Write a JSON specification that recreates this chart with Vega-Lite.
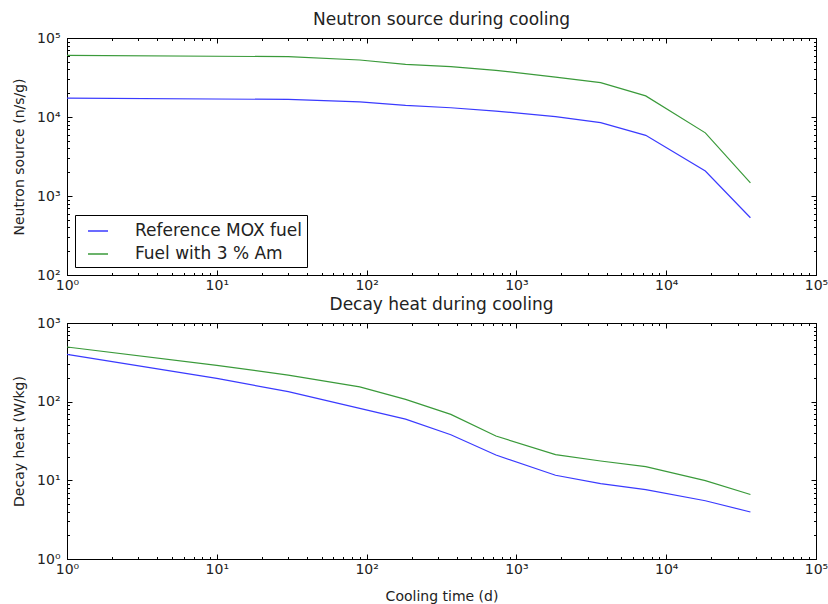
{
  "$schema": "https://vega.github.io/schema/vega-lite/v6.json",
  "background": "white",
  "padding": {"left": 12, "top": 10, "right": 4, "bottom": 4},
  "config": {
    "font": "DejaVu Sans",
    "view": {"stroke": "black", "strokeWidth": 1},
    "axis": {
      "domainColor": "black", "tickColor": "black", "labelColor": "#222", "titleColor": "#222",
      "labelFont": "DejaVu Sans", "titleFont": "DejaVu Sans",
      "labelFontSize": 14, "titleFontSize": 14, "titleFontWeight": "normal",
      "grid": false, "labelOverlap": false, "labelFlush": false, "labelBound": false
    },
    "title": {"fontSize": 17, "fontWeight": "normal", "color": "#222", "font": "DejaVu Sans", "offset": 2},
    "concat": {"spacing": 0}
  },
  "datasets": {
    "neutron": [
      {"t": 1, "fuel": "Reference MOX fuel", "v": 17300},
      {"t": 30, "fuel": "Reference MOX fuel", "v": 16700},
      {"t": 90, "fuel": "Reference MOX fuel", "v": 15500},
      {"t": 182, "fuel": "Reference MOX fuel", "v": 14000},
      {"t": 365, "fuel": "Reference MOX fuel", "v": 13100},
      {"t": 730, "fuel": "Reference MOX fuel", "v": 11900},
      {"t": 1825, "fuel": "Reference MOX fuel", "v": 10100},
      {"t": 3650, "fuel": "Reference MOX fuel", "v": 8470},
      {"t": 7300, "fuel": "Reference MOX fuel", "v": 5860},
      {"t": 18250, "fuel": "Reference MOX fuel", "v": 2070},
      {"t": 36500, "fuel": "Reference MOX fuel", "v": 530},
      {"t": 1, "fuel": "Fuel with 3 % Am", "v": 60400},
      {"t": 30, "fuel": "Fuel with 3 % Am", "v": 58000},
      {"t": 90, "fuel": "Fuel with 3 % Am", "v": 52700},
      {"t": 182, "fuel": "Fuel with 3 % Am", "v": 46400},
      {"t": 365, "fuel": "Fuel with 3 % Am", "v": 43400},
      {"t": 730, "fuel": "Fuel with 3 % Am", "v": 39000},
      {"t": 1825, "fuel": "Fuel with 3 % Am", "v": 32000},
      {"t": 3650, "fuel": "Fuel with 3 % Am", "v": 27200},
      {"t": 7300, "fuel": "Fuel with 3 % Am", "v": 18500},
      {"t": 18250, "fuel": "Fuel with 3 % Am", "v": 6300},
      {"t": 36500, "fuel": "Fuel with 3 % Am", "v": 1470}
    ],
    "heat": [
      {"t": 1, "fuel": "Reference MOX fuel", "v": 400},
      {"t": 10, "fuel": "Reference MOX fuel", "v": 198},
      {"t": 30, "fuel": "Reference MOX fuel", "v": 134},
      {"t": 90, "fuel": "Reference MOX fuel", "v": 82},
      {"t": 182, "fuel": "Reference MOX fuel", "v": 60},
      {"t": 365, "fuel": "Reference MOX fuel", "v": 38},
      {"t": 730, "fuel": "Reference MOX fuel", "v": 21},
      {"t": 1825, "fuel": "Reference MOX fuel", "v": 11.6},
      {"t": 3650, "fuel": "Reference MOX fuel", "v": 9.1},
      {"t": 7300, "fuel": "Reference MOX fuel", "v": 7.6},
      {"t": 18250, "fuel": "Reference MOX fuel", "v": 5.5},
      {"t": 36500, "fuel": "Reference MOX fuel", "v": 3.96},
      {"t": 1, "fuel": "Fuel with 3 % Am", "v": 495},
      {"t": 10, "fuel": "Fuel with 3 % Am", "v": 290},
      {"t": 30, "fuel": "Fuel with 3 % Am", "v": 218},
      {"t": 90, "fuel": "Fuel with 3 % Am", "v": 154},
      {"t": 182, "fuel": "Fuel with 3 % Am", "v": 107},
      {"t": 365, "fuel": "Fuel with 3 % Am", "v": 69},
      {"t": 730, "fuel": "Fuel with 3 % Am", "v": 36.6},
      {"t": 1825, "fuel": "Fuel with 3 % Am", "v": 21.2},
      {"t": 3650, "fuel": "Fuel with 3 % Am", "v": 17.6},
      {"t": 7300, "fuel": "Fuel with 3 % Am", "v": 14.9},
      {"t": 18250, "fuel": "Fuel with 3 % Am", "v": 9.9},
      {"t": 36500, "fuel": "Fuel with 3 % Am", "v": 6.6}
    ]
  },
  "resolve": {"scale": {"color": "independent"}, "legend": {"color": "independent"}},
  "vconcat": [
    {
      "title": "Neutron source during cooling",
      "width": 749,
      "height": 237,
      "data": {"name": "neutron"},
      "resolve": {"axis": {"x": "independent", "y": "independent"}},
      "layer": [
        {
          "mark": {"type": "line", "strokeWidth": 1.2},
          "encoding": {
            "x": {"field": "t", "type": "quantitative", "scale": {"type": "log", "domain": [1, 100000], "nice": false},
              "axis": {"orient": "bottom", "title": null,
                "values": [1,2,3,4,5,6,7,8,9,10,20,30,40,50,60,70,80,90,100,200,300,400,500,600,700,800,900,1000,2000,3000,4000,5000,6000,7000,8000,9000,10000,20000,30000,40000,50000,60000,70000,80000,90000,100000],
                "tickSize": {"condition": {"test": "abs(log(datum.value)/LN10 - round(log(datum.value)/LN10)) < 0.000001", "value": -5}, "value": -2.5},
                "labelPadding": 8,
                "labelExpr": "abs(log(datum.value)/LN10 - round(log(datum.value)/LN10)) < 0.000001 ? '10' + ['⁰','¹','²','³','⁴','⁵'][round(log(datum.value)/LN10)] : ''"}},
            "y": {"field": "v", "type": "quantitative", "scale": {"type": "log", "domain": [100, 100000], "nice": false},
              "axis": {"orient": "left", "title": "Neutron source (n/s/g)", "titlePadding": 10,
                "values": [100,200,300,400,500,600,700,800,900,1000,2000,3000,4000,5000,6000,7000,8000,9000,10000,20000,30000,40000,50000,60000,70000,80000,90000,100000],
                "tickSize": {"condition": {"test": "abs(log(datum.value)/LN10 - round(log(datum.value)/LN10)) < 0.000001", "value": -5}, "value": -2.5},
                "labelPadding": 12,
                "labelExpr": "abs(log(datum.value)/LN10 - round(log(datum.value)/LN10)) < 0.000001 ? '10' + ['⁰','¹','²','³','⁴','⁵'][round(log(datum.value)/LN10)] : ''"}},
            "color": {"field": "fuel", "type": "nominal",
              "scale": {"domain": ["Reference MOX fuel", "Fuel with 3 % Am"], "range": ["#3a3aff", "#3a9a3a"]},
              "legend": {"title": null, "orient": "bottom-left", "offset": 8, "strokeColor": "black", "fillColor": "white",
                "padding": 5, "symbolType": "stroke", "symbolSize": 400, "symbolStrokeWidth": 1.5, "symbolOffset": 7,
                "labelOffset": 26, "labelFontSize": 17, "labelLimit": 0, "labelColor": "#222", "rowPadding": 4, "cornerRadius": 0}}
          }
        },
        {
          "mark": {"type": "line", "strokeOpacity": 0},
          "encoding": {
            "x": {"field": "t", "type": "quantitative",
              "axis": {"orient": "top", "title": null, "labels": false,
                "values": [1,2,3,4,5,6,7,8,9,10,20,30,40,50,60,70,80,90,100,200,300,400,500,600,700,800,900,1000,2000,3000,4000,5000,6000,7000,8000,9000,10000,20000,30000,40000,50000,60000,70000,80000,90000,100000],
                "tickSize": {"condition": {"test": "abs(log(datum.value)/LN10 - round(log(datum.value)/LN10)) < 0.000001", "value": -5}, "value": -2.5}}},
            "y": {"field": "v", "type": "quantitative",
              "axis": {"orient": "right", "title": null, "labels": false,
                "values": [100,200,300,400,500,600,700,800,900,1000,2000,3000,4000,5000,6000,7000,8000,9000,10000,20000,30000,40000,50000,60000,70000,80000,90000,100000],
                "tickSize": {"condition": {"test": "abs(log(datum.value)/LN10 - round(log(datum.value)/LN10)) < 0.000001", "value": -5}, "value": -2.5}}},
            "detail": {"field": "fuel"}
          }
        }
      ]
    },
    {
      "title": "Decay heat during cooling",
      "width": 749,
      "height": 236,
      "data": {"name": "heat"},
      "resolve": {"axis": {"x": "independent", "y": "independent"}},
      "layer": [
        {
          "mark": {"type": "line", "strokeWidth": 1.2},
          "encoding": {
            "x": {"field": "t", "type": "quantitative", "scale": {"type": "log", "domain": [1, 100000], "nice": false},
              "axis": {"orient": "bottom", "title": "Cooling time (d)", "titlePadding": 11,
                "values": [1,2,3,4,5,6,7,8,9,10,20,30,40,50,60,70,80,90,100,200,300,400,500,600,700,800,900,1000,2000,3000,4000,5000,6000,7000,8000,9000,10000,20000,30000,40000,50000,60000,70000,80000,90000,100000],
                "tickSize": {"condition": {"test": "abs(log(datum.value)/LN10 - round(log(datum.value)/LN10)) < 0.000001", "value": -5}, "value": -2.5},
                "labelPadding": 8,
                "labelExpr": "abs(log(datum.value)/LN10 - round(log(datum.value)/LN10)) < 0.000001 ? '10' + ['⁰','¹','²','³','⁴','⁵'][round(log(datum.value)/LN10)] : ''"}},
            "y": {"field": "v", "type": "quantitative", "scale": {"type": "log", "domain": [1, 1000], "nice": false},
              "axis": {"orient": "left", "title": "Decay heat (W/kg)", "titlePadding": 10,
                "values": [1,2,3,4,5,6,7,8,9,10,20,30,40,50,60,70,80,90,100,200,300,400,500,600,700,800,900,1000],
                "tickSize": {"condition": {"test": "abs(log(datum.value)/LN10 - round(log(datum.value)/LN10)) < 0.000001", "value": -5}, "value": -2.5},
                "labelPadding": 12,
                "labelExpr": "abs(log(datum.value)/LN10 - round(log(datum.value)/LN10)) < 0.000001 ? '10' + ['⁰','¹','²','³','⁴','⁵'][round(log(datum.value)/LN10)] : ''"}},
            "color": {"field": "fuel", "type": "nominal",
              "scale": {"domain": ["Reference MOX fuel", "Fuel with 3 % Am"], "range": ["#3a3aff", "#3a9a3a"]},
              "legend": null}
          }
        },
        {
          "mark": {"type": "line", "strokeOpacity": 0},
          "encoding": {
            "x": {"field": "t", "type": "quantitative",
              "axis": {"orient": "top", "title": null, "labels": false,
                "values": [1,2,3,4,5,6,7,8,9,10,20,30,40,50,60,70,80,90,100,200,300,400,500,600,700,800,900,1000,2000,3000,4000,5000,6000,7000,8000,9000,10000,20000,30000,40000,50000,60000,70000,80000,90000,100000],
                "tickSize": {"condition": {"test": "abs(log(datum.value)/LN10 - round(log(datum.value)/LN10)) < 0.000001", "value": -5}, "value": -2.5}}},
            "y": {"field": "v", "type": "quantitative",
              "axis": {"orient": "right", "title": null, "labels": false,
                "values": [1,2,3,4,5,6,7,8,9,10,20,30,40,50,60,70,80,90,100,200,300,400,500,600,700,800,900,1000],
                "tickSize": {"condition": {"test": "abs(log(datum.value)/LN10 - round(log(datum.value)/LN10)) < 0.000001", "value": -5}, "value": -2.5}}},
            "detail": {"field": "fuel"}
          }
        }
      ]
    }
  ]
}
